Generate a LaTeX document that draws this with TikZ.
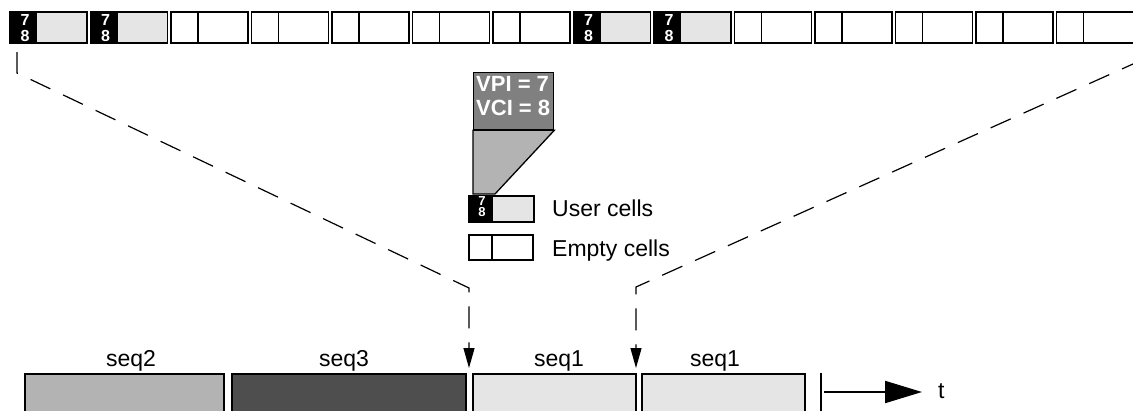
\documentclass[tikz,border=0pt]{standalone}
\usepackage{fontspec}
\setmainfont{Liberation Sans}
\usetikzlibrary{arrows.meta}
\definecolor{lightcell}{RGB}{229,229,229}
\definecolor{midgray}{RGB}{179,179,179}
\definecolor{darkgray2}{RGB}{78,78,78}
\definecolor{vpigray}{RGB}{128,128,128}
\begin{document}
\begin{tikzpicture}[x=1pt,y=-1pt,
  cellframe/.style={draw=black, line width=1.9pt, inner sep=0pt, outer sep=0pt, anchor=north west, minimum width=77pt, minimum height=31pt},
  usercell/.style={cellframe, fill=lightcell},
  emptycell/.style={cellframe, fill=white},
  digit/.style={text=white, font=\fontsize{16}{16}\selectfont\bfseries, inner sep=0pt, anchor=base},
  smalldigit/.style={text=white, font=\fontsize{13}{13}\selectfont\bfseries, inner sep=0pt, anchor=base},
  label/.style={font=\fontsize{23}{23}\selectfont, inner sep=0pt, anchor=base},
  seqbox/.style={draw=black, line width=2pt, inner sep=0pt, outer sep=0pt, anchor=north west, minimum height=40pt},
  zoomline/.style={dashed, dash pattern=on 22pt off 14pt, line width=1.2pt, -{Triangle[length=20pt,width=11pt]}}
]
\useasboundingbox (0,0) rectangle (1133,410);
\clip (0,0) rectangle (1133,410);
% top row of cells
\foreach \i/\kind in {0/u,1/u,2/e,3/e,4/e,5/e,6/e,7/u,8/u,9/e,10/e,11/e,12/e,13/e}{
  \pgfmathsetmacro{\cx}{10+80.5*\i}
  \if u\kind
    \node[usercell] (c\i) at (\cx,12) {};
    \fill[black] (c\i.north west) rectangle ++(27,31);
    \draw[line width=1.9pt] (c\i.north west) rectangle (c\i.south east);
    \node[digit] (s\i) at (\cx+15,25) {7};
    \node[digit] (t\i) at (\cx+15,41.5) {8};
  \else
    \node[emptycell] (c\i) at (\cx,12) {};
    \draw[line width=1.9pt] ([xshift=27pt]c\i.north west) -- ([xshift=27pt]c\i.south west);
  \fi
}
% header zoom
\node[draw=black, line width=1.3pt, fill=vpigray, anchor=north west, inner sep=0pt, minimum width=80pt, minimum height=57pt] (vpi) at (473,72) {};
\node[label, anchor=base west, text=white, font=\fontsize{22}{22}\selectfont\bfseries] (vpit) at (476,91.5) {VPI = 7};
\node[label, anchor=base west, text=white, font=\fontsize{22}{22}\selectfont\bfseries] (vcit) at (476,115) {VCI = 8};
\filldraw[fill=midgray, draw=black, line width=1.3pt] (vpi.south west) -- (vpi.south east) -- (495,194) -- (473,194) -- cycle;
% legend
\node[cellframe, fill=lightcell, minimum width=65pt, minimum height=26pt] (lu) at (469,196) {};
\fill[black] (lu.north west) rectangle ++(24,26);
\draw[line width=1.9pt] (lu.north west) rectangle (lu.south east);
\node[smalldigit] (l7) at (482,205.5) {7};
\node[smalldigit] (l8) at (482,216.5) {8};
\node[label, anchor=base west] (lut) at (552,216.5) {User cells};
\node[cellframe, fill=white, minimum width=64pt, minimum height=25pt] (le) at (469,235) {};
\draw[line width=1.9pt] ([xshift=23pt]le.north west) -- ([xshift=23pt]le.south west);
\node[label, anchor=base west] (let) at (552,256.5) {Empty cells};
% bottom sequence boxes
\node[seqbox, fill=midgray, minimum width=199pt] (b1) at (25,374) {};
\node[seqbox, fill=darkgray2, minimum width=234pt] (b2) at (232,374) {};
\node[seqbox, fill=lightcell, minimum width=163pt] (b3) at (473,374) {};
\node[seqbox, fill=lightcell, minimum width=163pt] (b4) at (642,374) {};
\node[label] (q1) at (131,366) {seq2};
\node[label] (q2) at (344,366) {seq3};
\node[label] (q3) at (559,366) {seq1};
\node[label] (q4) at (715,366) {seq1};
% time axis
\coordinate (tbar) at (821,373);
\draw[line width=2pt] (tbar) -- (821,412);
\coordinate (tstart) at (824,392);
\coordinate (tend) at (922,392);
\draw[line width=2pt, -{Triangle[length=37pt,width=22pt]}] (tstart) -- (tend);
\node[label, anchor=base west] (tt) at (938,398) {t};
% zoom lines
\coordinate (lstart) at (17,52);
\coordinate (lbend) at (469,288);
\coordinate (lend) at (469,368);
\coordinate (rstart) at (1133,64);
\coordinate (rbend) at (636,287);
\coordinate (rend) at (636,368);
\draw[zoomline] (lstart) -- (17,73) -- (lbend) -- (lend);
\draw[zoomline, dash phase=10pt] (rstart) -- (rbend) -- (rend);
\end{tikzpicture}
\end{document}
